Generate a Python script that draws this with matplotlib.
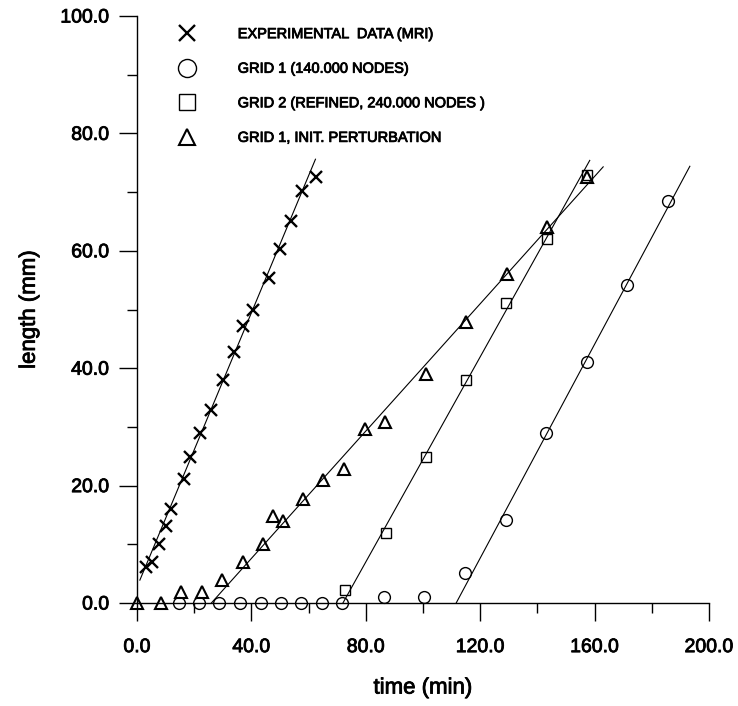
import matplotlib
matplotlib.use("Agg")
import matplotlib.pyplot as plt
import matplotlib.patheffects as pe
from matplotlib.lines import Line2D
from matplotlib.ticker import MultipleLocator, FormatStrFormatter

plt.rcParams['font.family'] = ['Liberation Sans', 'DejaVu Sans']

# Experimental MRI measurements
exp_t = [3.1, 5.1, 7.8, 10.0, 12.0, 16.5, 18.6, 22.0, 25.8, 30.1, 33.9,
         37.1, 40.6, 46.2, 49.9, 54.0, 57.8, 62.7]
exp_len = [6.1, 7.0, 10.0, 13.1, 16.0, 21.1, 24.9, 28.9, 32.9, 38.0, 42.8,
           47.2, 49.9, 55.3, 60.3, 65.1, 70.2, 72.5]

# Grid 1 (140.000 nodes)
grid1_t = [14.8, 21.8, 28.7, 36.0, 43.3, 50.5, 57.5, 64.8, 71.8, 86.3,
           100.5, 114.7, 129.0, 143.0, 157.5, 171.5, 185.8]
grid1_len = [0, 0, 0, 0, 0, 0, 0, 0, 0, 1.0,
             1.0, 5.1, 14.1, 29.0, 41.1, 54.2, 68.4]

# Grid 2 (refined, 240.000 nodes)
grid2_t = [72.6, 86.9, 100.9, 115.1, 129.0, 143.3, 157.5]
grid2_len = [2.2, 12.0, 24.9, 38.0, 51.1, 62.0, 72.9]

# Grid 1 with initial perturbation
pert_t = [0, 8.4, 15.4, 22.6, 29.7, 36.9, 44.0, 47.7, 51.0, 58.2, 65.1,
          72.4, 79.6, 86.6, 100.9, 115.1, 129.2, 143.3, 157.5]
pert_len = [0, 0, 1.9, 1.9, 4.0, 6.9, 10.0, 14.9, 14.0, 17.8, 20.9,
            22.8, 29.6, 30.9, 39.0, 47.9, 56.0, 64.1, 72.6]

# Straight-line growth fits (start and end points)
exp_fit_t, exp_fit_len = [1.0, 62.4], [3.9, 75.6]
grid1_fit_t, grid1_fit_len = [111.6, 193.3], [0.0, 74.4]
grid2_fit_t, grid2_fit_len = [72.0, 158.3], [0.0, 75.4]
pert_fit_t, pert_fit_len = [26.0, 163.0], [0.0, 74.3]

labels = ["EXPERIMENTAL  DATA (MRI)",
          "GRID 1 (140.000 NODES)",
          "GRID 2 (REFINED, 240.000 NODES )",
          "GRID 1, INIT. PERTURBATION"]

# slightly heavier strokes for all lettering
heavy = [pe.withStroke(linewidth=0.6, foreground='black')]

fig = plt.figure(figsize=(7.38, 7.06), dpi=100)
ax = fig.add_axes([137 / 738, 1 - 603 / 706, 572 / 738, 587 / 706])

lw = 0.8
for t, l in [(exp_fit_t, exp_fit_len), (grid1_fit_t, grid1_fit_len),
             (grid2_fit_t, grid2_fit_len), (pert_fit_t, pert_fit_len)]:
    ax.plot(t, l, color='black', lw=lw, zorder=2)

ax.plot(exp_t, exp_len, ls='none', marker='x', ms=9, mew=1.7,
        color='black', zorder=3, clip_on=False)
ax.plot(grid1_t, grid1_len, ls='none', marker='o', ms=8.5, mew=1.0,
        mfc='none', mec='black', zorder=3, clip_on=False)
ax.plot(grid2_t, grid2_len, ls='none', marker='s', ms=7.5, mew=1.0,
        mfc='none', mec='black', zorder=3, clip_on=False)
ax.plot(pert_t, pert_len, ls='none', marker='^', ms=8, mew=1.5,
        mfc='none', mec='black', zorder=3, clip_on=False)

ax.set_xlim(0, 200)
ax.set_ylim(0, 100)

for side in ['top', 'right']:
    ax.spines[side].set_visible(False)
for side in ['left', 'bottom']:
    ax.spines[side].set_linewidth(1.0)

ax.xaxis.set_major_locator(MultipleLocator(40))
ax.xaxis.set_minor_locator(MultipleLocator(20))
ax.yaxis.set_major_locator(MultipleLocator(20))
ax.yaxis.set_minor_locator(MultipleLocator(10))
ax.xaxis.set_major_formatter(FormatStrFormatter('%.1f'))
ax.yaxis.set_major_formatter(FormatStrFormatter('%.1f'))

ax.tick_params(axis='x', which='major', direction='out', length=13, width=1.0,
               pad=13, labelsize=14)
ax.tick_params(axis='y', which='major', direction='out', length=13, width=1.0,
               pad=7, labelsize=14)
ax.tick_params(which='minor', direction='out', length=7, width=1.0)

ax.set_xlabel('time (min)', fontsize=16)
ax.set_ylabel('length (mm)', fontsize=16)
ax.xaxis.set_label_coords(0.5, -0.127)
ax.yaxis.set_label_coords(-0.17, 0.5)

handles = [
    Line2D([], [], ls='none', marker='x', ms=12, mew=1.7, color='black'),
    Line2D([], [], ls='none', marker='o', ms=13, mew=1.0, mfc='none', mec='black'),
    Line2D([], [], ls='none', marker='s', ms=12, mew=1.0, mfc='none', mec='black'),
    Line2D([], [], ls='none', marker='^', ms=12, mew=1.5, mfc='none', mec='black'),
]
leg = ax.legend(handles, labels, loc='upper left', bbox_to_anchor=(0.069, 0.981),
                frameon=False, fontsize=10.5, handlelength=1.5, handletextpad=2.7,
                labelspacing=1.41, borderpad=0, borderaxespad=0)

texts = (ax.get_xticklabels() + ax.get_yticklabels()
         + [ax.xaxis.label, ax.yaxis.label] + leg.get_texts())
for txt in texts:
    txt.set_path_effects(heavy)

fig.savefig('out.png', dpi=100)
